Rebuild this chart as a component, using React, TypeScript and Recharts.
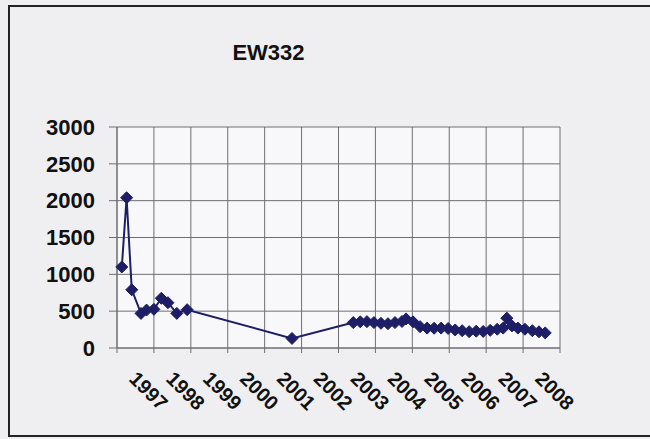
import React from 'react'
import { LineChart, Line, XAxis, YAxis, CartesianGrid } from 'recharts'

const chartTitle = 'EW332'

// gridline positions: one per year boundary, labels sit in the middle of each year
const yearTicks = [1997, 1998, 1999, 2000, 2001, 2002, 2003, 2004, 2005, 2006, 2007, 2008, 2009]
const valueTicks = [0, 500, 1000, 1500, 2000, 2500, 3000]

const sampleYears = [
  1997.13, 1997.26, 1997.4, 1997.65, 1997.8, 1998.0, 1998.2, 1998.38, 1998.62, 1998.9,
  2001.74,
  2003.4, 2003.59, 2003.77, 2003.96, 2004.15, 2004.34, 2004.53, 2004.72, 2004.83, 2005.02,
  2005.21, 2005.4, 2005.59, 2005.78, 2005.97, 2006.16, 2006.35, 2006.54, 2006.73, 2006.92,
  2007.11, 2007.3, 2007.46, 2007.56, 2007.7, 2007.86, 2008.05, 2008.25, 2008.43, 2008.6,
]
const sampleValues = [
  1100, 2040, 790, 470, 515, 525, 675, 615, 470, 520,
  130,
  345, 355, 358, 345, 335, 330, 345, 360, 395, 355,
  290, 270, 268, 270, 265, 245, 235, 222, 228, 225,
  240, 255, 270, 405, 300, 270, 255, 235, 220, 205,
]

const data = sampleYears.map((t, i) => ({ t, v: sampleValues[i] }))

const ink = '#1e1e66'
const font = '"Liberation Sans", Arial, sans-serif'

function YearTick(props: any) {
  const { x, y, payload } = props
  if (payload.value === 2009) return null
  const px = x + 11
  const py = y + 25
  return (
    <text
      x={px}
      y={py}
      transform={`rotate(45, ${px}, ${py})`}
      textAnchor="start"
      fontSize={20}
      fontWeight="bold"
      fontFamily={font}
      fill="#111"
    >
      {payload.value}
    </text>
  )
}

function Diamond(props: any) {
  const { cx, cy } = props
  if (cx == null || cy == null) return null
  const r = 6
  return (
    <polygon
      points={`${cx},${cy - r} ${cx + r},${cy} ${cx},${cy + r} ${cx - r},${cy}`}
      fill={ink}
      stroke={ink}
      strokeWidth={1}
    />
  )
}

export default function App() {
  return (
    <div
      style={{
        position: 'absolute',
        left: 0,
        top: 0,
        width: 650,
        height: 439,
        overflow: 'hidden',
        background: '#efeff1',
      }}
    >
      <div
        style={{
          position: 'absolute',
          left: 8,
          top: 5,
          width: 700,
          height: 428,
          borderLeft: '2px solid #222',
          borderTop: '2px solid #222',
          borderBottom: '2px solid #222',
        }}
      />
      <div
        style={{
          position: 'absolute',
          left: 0,
          top: 40,
          width: 537,
          textAlign: 'center',
          fontFamily: font,
          fontWeight: 'bold',
          fontSize: 22,
          color: '#111',
        }}
      >
        {chartTitle}
      </div>
      <div style={{ position: 'absolute', left: 0, top: 0 }}>
        <LineChart width={650} height={439} data={data} margin={{ top: 127, right: 90, bottom: 0, left: 0 }}>
          <CartesianGrid stroke="#6f6f6f" strokeWidth={1} fill="#f8f8fa" />
          <XAxis
            type="number"
            dataKey="t"
            domain={[1997, 2009]}
            ticks={yearTicks}
            interval={0}
            height={91}
            tickSize={5}
            stroke="#6f6f6f"
            tick={<YearTick />}
          />
          <YAxis
            type="number"
            domain={[0, 3000]}
            ticks={valueTicks}
            interval={0}
            width={117}
            tickSize={8}
            tickMargin={14}
            stroke="#6f6f6f"
            tick={{ fontSize: 22, fontWeight: 'bold', fill: '#111', fontFamily: font }}
          />
          <Line
            type="linear"
            dataKey="v"
            stroke={ink}
            strokeWidth={2}
            dot={(p: any) => <Diamond key={p.index} {...p} />}
            activeDot={false}
            isAnimationActive={false}
          />
        </LineChart>
      </div>
    </div>
  )
}
